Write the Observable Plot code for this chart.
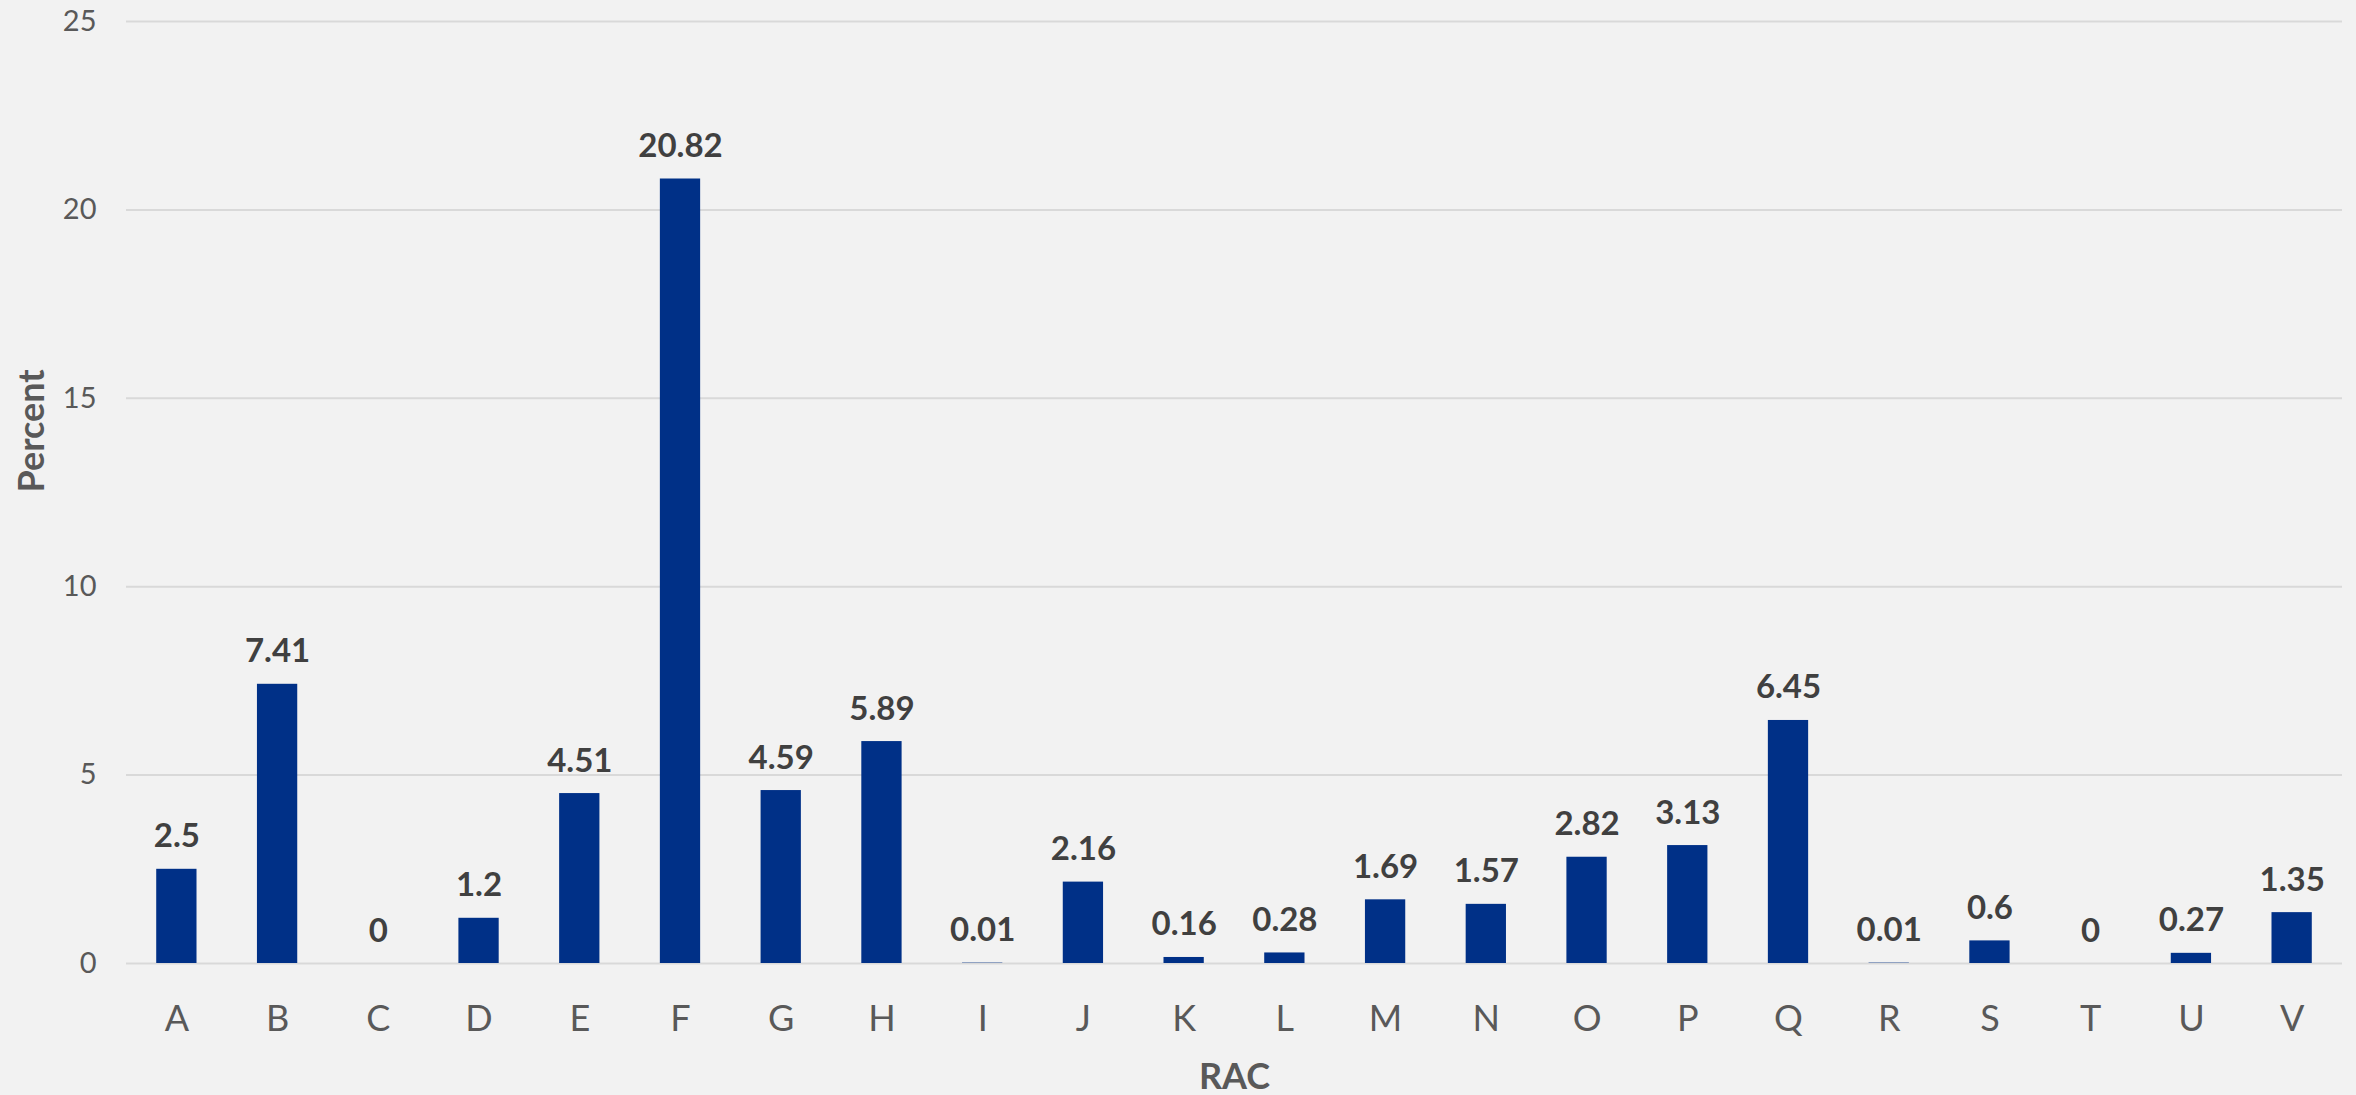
<!DOCTYPE html>
<html>
<head>
<meta charset="utf-8">
<script src="https://cdn.jsdelivr.net/npm/d3@7"></script>
<script src="https://cdn.jsdelivr.net/npm/@observablehq/plot@0.6"></script>
<style>
  html, body { margin: 0; padding: 0; background: #f2f2f2; }
  svg { display: block; }
</style>
</head>
<body>
<div id="chart"></div>
<script>
const categories = ["A","B","C","D","E","F","G","H","I","J","K","L","M","N","O","P","Q","R","S","T","U","V"];
const values = [2.5, 7.41, 0, 1.2, 4.51, 20.82, 4.59, 5.89, 0.01, 2.16, 0.16, 0.28, 1.69, 1.57, 2.82, 3.13, 6.45, 0.01, 0.6, 0, 0.27, 1.35];
const yTicks = [0, 5, 10, 15, 20, 25];
const xTitle = "RAC";
const yTitle = "Percent";

const data = categories.map((c, i) => ({cat: c, value: values[i]}));
const font = "Lato, 'Open Sans', sans-serif";

const chart = Plot.plot({
  width: 2356,
  height: 1095,
  marginLeft: 126,
  marginRight: 14,
  marginTop: 21,
  marginBottom: 132,
  style: {background: "#f2f2f2", fontFamily: font},
  x: {domain: categories, paddingInner: 0.6, paddingOuter: 0.3, round: false, label: null},
  y: {domain: [0, 25], label: null},
  marks: [
    Plot.ruleY(yTicks, {stroke: "#d9d9d9", strokeWidth: 2}),
    Plot.axisY({ticks: yTicks, tickSize: 0, tickPadding: 30, fontSize: 29, fill: "#595959", label: null, tickFormat: d => String(d)}),
    Plot.axisX({tickSize: 0, tickPadding: 42, fontSize: 36, fill: "#595959", label: null}),
    Plot.barY(data, {x: "cat", y: "value", fill: "#003087"}),
    Plot.text(data, {x: "cat", y: "value", text: d => String(d.value), lineAnchor: "bottom", dy: -22, fontSize: 33, fontWeight: "bold", fill: "#404040"}),
    Plot.text([xTitle], {frameAnchor: "bottom", text: d => d, lineAnchor: "bottom", dy: 125, fontSize: 36, fontWeight: "bold", fill: "#595959"}),
    Plot.text([yTitle], {frameAnchor: "left", text: d => d, rotate: -90, lineAnchor: "middle", dx: -94, fontSize: 36, fontWeight: "bold", fill: "#595959"})
  ]
});
document.getElementById("chart").appendChild(chart);
</script>
</body>
</html>
